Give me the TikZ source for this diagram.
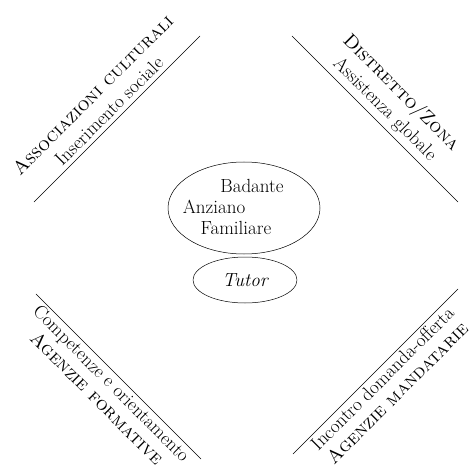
\documentclass[tikz,border=0pt]{standalone}
\usepackage{fontspec}
\usetikzlibrary{shapes.geometric,positioning}

\begin{document}
\begin{tikzpicture}[x=1pt,y=-1pt,line cap=round,line join=round,line width=0.5pt,
	every node/.style={font=\fontsize{19}{20}\selectfont},
	side/.style={align=center,inner sep=4.5pt},
	rim/.style={draw,ellipse,inner sep=0pt}]
	\useasboundingbox (0,0) rectangle (473,470);

	% the four lines
	\coordinate (tlA) at (34,202);  \coordinate (tlB) at (200,36);
	\coordinate (trA) at (292,36);  \coordinate (trB) at (458,202);
	\coordinate (blA) at (36,294);  \coordinate (blB) at (201,459);
	\coordinate (brA) at (293,454); \coordinate (brB) at (458,289);

	\draw (tlA) -- node[side,rotate=45,anchor=south] (assoc)
		{\textsc{Associazioni culturali}\\[3pt]Inserimento sociale} (tlB);
	\draw (trA) -- node[side,rotate=-45,anchor=south] (distr)
		{\textsc{Distretto/Zona}\\[3pt]Assistenza globale} (trB);
	\draw (blA) -- node[side,inner sep=2.5pt,rotate=-45,anchor=north] (form)
		{Competenze e orientamento\\[1pt]\textsc{Agenzie formative}} (blB);
	\draw (brA) -- node[side,inner sep=2.5pt,rotate=45,anchor=north] (mand)
		{Incontro domanda-offerta\\[1pt]\textsc{Agenzie mandatarie}} (brB);

	% centre
	\node[rim,minimum width=152pt,minimum height=92pt] (nucleo) at (244,208) {};
	\node[anchor=base] (badante) at (252,193) {Badante};
	\node[anchor=base] (anziano) at (214,214) {Anziano};
	\node[anchor=base] (famil) at (236,234) {Familiare};
	\node[rim,minimum width=104pt,minimum height=46pt] (tutor) at (245,280) {\itshape Tutor};

\end{tikzpicture}
\end{document}
